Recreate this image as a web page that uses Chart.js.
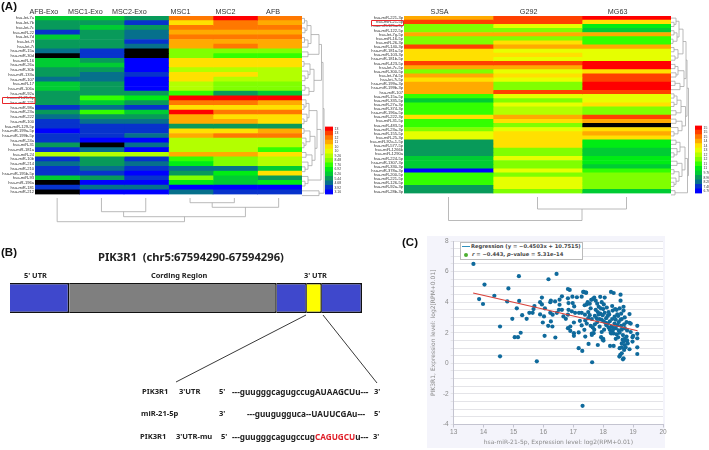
<!DOCTYPE html>
<html>
<head>
<meta charset="utf-8">
<script src="https://cdn.jsdelivr.net/npm/chart.js@4"></script>
<style>
  html, body { margin: 0; padding: 0; background: #fff; width: 709px; height: 450px; overflow: hidden; }
  #stage { position: relative; width: 709px; height: 450px; font-family: "Liberation Sans", Arial, sans-serif; }
  #stage canvas, #stage svg { position: absolute; }
  .t { position: absolute; white-space: pre; line-height: 1; color: #222; font-variant-ligatures: none; }
  .b { font-family: "Noto Sans", sans-serif; font-weight: 700; }
</style>
</head>
<body>
<div id="stage"></div>
<script>
// === Data: heatmap (A) left, colour level per row ===
const leftRows = ["hsa-let-7a","hsa-let-7b","hsa-let-7c","hsa-miR-22","hsa-let-7d","hsa-let-7f","hsa-let-7i","hsa-miR-15a","hsa-miR-30d","hsa-miR-16","hsa-miR-26a","hsa-miR-30b","hsa-miR-133a","hsa-miR-107","hsa-miR-17","hsa-miR-106a","hsa-miR-92a","hsa-miR-21-5p","hsa-miR-221","hsa-miR-98a","hsa-miR-23a","hsa-miR-222","hsa-miR-100","hsa-miR-129-5p","hsa-miR-199a-5p","hsa-miR-199b-5p","hsa-miR-24a","hsa-miR-31","hsa-miR-181a","hsa-miR-24","hsa-miR-10b","hsa-miR-214","hsa-miR-210","hsa-miR-195b-5p","hsa-miR-93","hsa-miR-196a","hsa-miR-181","hsa-miR-212"];
const leftCols = ["AFB-Exo","MSC1-Exo","MSC2-Exo","MSC1","MSC2","AFB"];
const afbExo  = [4,3,3,1,4,3,3,2,-1,4,4,3,3,2,4,4,3,3,3,1,3,2,1,1,0,1,1,3,1,8,1,2,1,1,4,-1,1,-1];
const msc1Exo = [4,3,4,3,3,3,3,1,1,3,4,3,2,2,3,3,3,6,4,2,6,3,2,1,1,1,0,-1,2,8,3,3,2,1,3,0,2,0];
const msc2Exo = [3,1,3,2,2,1,2,-1,-1,0,0,0,1,0,0,0,3,5,3,1,4,3,2,1,1,2,0,2,0,8,1,2,1,0,1,0,2,0];
const msc1    = [12,10,12,11,12,11,11,7,7,10,10,8,10,10,8,8,6,14,12,10,14,11,11,3,10,11,8,8,8,11,6,5,2,3,7,5,0,2];
const msc2    = [14,12,12,11,12,11,12,7,6,10,10,8,10,8,7,7,3,14,12,10,12,10,11,3,10,12,8,8,8,11,7,7,2,5,4,4,0,1];
const afb     = [12,11,12,11,12,11,11,7,6,10,10,8,8,8,7,7,4,14,11,10,12,10,10,3,11,12,8,8,6,10,8,8,4,10,3,5,0,1];

// === Data: heatmap (A) right ===
const rightRows = ["hsa-miR-221-3p","hsa-miR-21-5p","hsa-miR-125a-5p","hsa-miR-122-5p","hsa-let-7g-5p","hsa-miR-16-5p","hsa-miR-26-3p","hsa-miR-140-3p","hsa-miR-181a-5p","hsa-miR-103-3p","hsa-miR-181b-5p","hsa-miR-423-5p","hsa-let-7c-5p","hsa-miR-300-5p","hsa-let-7d-5p","hsa-let-7i-5p","hsa-miR-199a-3p","hsa-miR-199b-3p","hsa-miR-107","hsa-miR-15a-5p","hsa-miR-335-5p","hsa-miR-27a-3p","hsa-miR-374-3p","hsa-miR-196a-5p","hsa-miR-222-3p","hsa-miR-31-5p","hsa-miR-483-5p","hsa-miR-23a-3p","hsa-miR-155-5p","hsa-miR-25-3p","hsa-miR-92a-1-5p","hsa-miR-577-5p","hsa-miR-1266b","hsa-miR-1290a","hsa-miR-224-5p","hsa-miR-1307-3p","hsa-miR-330-3p","hsa-miR-378a-3p","hsa-miR-200-5p","hsa-miR-221-5p","hsa-miR-126-5p","hsa-miR-92a-3p","hsa-miR-28b-3p"];
const rightCols = ["SJSA","G292","MG63"];
const sjsa = [11,13,7,7,11,7,7,13,10,10,10,13,11,7,11,10,11,11,11,6,4,6,6,6,10,6,6,7,9,9,3,3,3,3,4,4,4,0,6,6,6,3,3];
const g292 = [13,13,9,7,11,7,10,11,9,10,9,13,11,9,10,9,7,7,13,9,7,9,8,8,11,10,7,9,10,10,10,10,7,7,9,7,7,9,7,9,9,9,7];
const mg63 = [14,10,5,4,11,6,6,11,9,9,9,14,14,10,13,13,14,14,13,9,9,10,7,7,13,11,-1,10,11,10,5,5,4,4,5,5,4,6,7,7,7,7,4];

// === Data: colour keys ===
const leftKeyLabels  = ["13","13","12","11","10","10","9.26","8.48","7.70","6.92","6.20","5.44","4.68","3.92","3.16"];
const rightKeyLabels = ["15","15","15","14","14","13","12","12","11","11","9.76","8.96","8.28","7.48","6.76"];
const keyLevels = [14,13,12,11,10,9,8,7,6,5,4,3,2,1,0];

// === Data: gene structure (B) ===
const geneParts = ["5' UTR","Cording Region","3' UTR a","Site","3' UTR b"];
const geneLengths = [59,207,30,15,40];

// === Data: scatter (C) ===
const scatterX = [13.66,15.18,16.44,16.17,14.03,14.83,14.36,13.85,13.98,14.79,15.19,15.11,14.96,15.29,15.44,14.55,15.04,15.15,15.24,14.55,15.78,17.31,17.63,17.18,17.3,16.04,16.4,15.53,15.64,15.67,15.7,15.95,15.89,15.95,15.89,16.02,16.05,15.98,16.16,16.3,16.25,16.23,16.25,16.39,16.23,16.31,16.45,16.54,16.62,16.54,16.62,16.52,16.67,16.75,16.82,16.82,16.88,16.82,16.97,17.12,17.28,17.35,17.43,16.84,16.98,17.03,16.84,16.95,17.06,17.19,17.28,17.39,16.82,16.9,16.9,17.02,17.22,17.02,17.18,17.02,17.37,17.28,17.4,17.51,17.82,17.62,17.68,18.26,18.35,18.58,18.58,19.14,19.14,19.14,19.14,19.14,18.88,18.98,18.98,18.88,18.57,18.62,18.68,18.66,18.54,18.7,18.55,18.23,18.35,18.01,17.93,17.33,17.42,17.38,17.45,17.55,17.48,17.6,17.7,17.65,17.75,17.8,17.9,18.05,17.95,18.02,17.85,17.92,18.0,17.75,17.82,17.9,17.98,18.05,17.72,17.78,17.88,17.95,18.02,18.1,18.15,18.2,18.08,18.15,18.22,18.3,18.38,18.45,18.32,18.4,18.55,18.68,18.6,18.5,18.42,18.52,18.62,18.72,18.78,18.88,18.92,18.7,18.6,18.48,18.38,18.28,18.18,18.22,18.32,18.42,18.52,18.62,18.72,18.8,18.92,18.25,18.35,18.45,18.55,18.66,18.78,18.72,18.65,18.7,18.8,18.62,18.72,18.82,18.75,18.62,18.5,18.42,17.5,17.55,17.62,17.5,17.4,17.45,17.58,17.65,17.72,17.8,17.88,17.7,17.62,17.95,17.98,18.0,19.0,18.12,18.3,18.47,17.58,17.85,18.1,18.58,18.68,18.35,18.18,18.03,18.27];
const scatterY = [6.5,5.7,5.85,5.5,5.15,4.9,4.42,4.2,3.88,4.05,4.08,3.6,2.91,3.15,2.91,2.41,1.71,1.71,2.0,0.46,0.13,-2.78,0.07,0.99,0.81,1.8,1.69,3.3,3.3,3.55,3.75,4.3,4.0,3.85,3.2,3.07,3.6,2.67,2.45,2.41,2.74,4.0,4.1,4.05,3.3,3.18,3.3,4.16,4.38,3.83,3.5,3.5,3.07,2.91,3.18,4.86,4.8,4.25,4.36,4.32,4.36,4.67,4.62,3.94,3.94,3.72,3.5,3.4,3.3,3.3,3.3,3.18,2.3,2.41,2.12,2.67,2.78,1.97,2.02,1.8,2.19,2.48,1.75,1.27,1.2,1.86,1.97,4.67,4.6,4.49,4.1,2.45,1.93,1.64,1.05,0.61,3.22,1.71,1.42,0.92,0.55,0.66,0.33,0.26,0.44,0.88,0.99,1.14,1.14,1.49,1.71,4.67,4.62,3.8,3.85,3.9,4.0,4.15,4.3,4.2,4.1,3.9,4.35,4.3,4.0,3.85,3.7,3.6,3.55,3.5,3.35,3.25,3.15,3.3,3.1,2.95,2.9,2.85,2.75,2.95,3.1,3.2,2.65,2.6,2.75,2.9,3.05,3.5,3.45,3.55,3.6,3.45,3.25,3.1,2.85,2.7,2.9,3.0,2.7,2.65,2.6,2.55,2.45,2.5,2.6,2.4,2.35,2.2,2.15,2.3,2.15,2.2,2.3,2.15,2.05,2.0,1.95,1.9,2.0,1.85,1.75,1.6,1.55,1.45,1.5,1.3,1.2,1.3,1.05,1.05,1.7,1.6,3.35,3.15,2.9,2.95,2.8,2.6,2.45,2.35,2.55,2.7,2.4,2.2,1.95,2.05,1.55,1.6,1.8,3.65,3.75,3.2,3.6,3.2,2.5,2.85,3.7,2.3,3.35,2.2,1.95];
const lineX = [13.65,19.15];
const lineY = [4.6,2.13];

// === Styles ===
const palette = ["#0000ff","#0733cc","#06708c","#089a5a","#00cc33","#00ec14","#33ff00","#80ff00","#b3ff00","#e6ff00","#ffe000","#ffaa00","#ff7800","#ff4000","#ff0000"];
const levelColor = (v) => (v < 0 ? "#000000" : palette[v]);
const stage = document.getElementById("stage");

function addCanvas(left, top, width, height) {
  const c = document.createElement("canvas");
  c.width = width;
  c.height = height;
  c.style.left = left + "px";
  c.style.top = top + "px";
  c.style.width = width + "px";
  c.style.height = height + "px";
  stage.appendChild(c);
  return c;
}

function addText(x, y, str, size, cls, extra) {
  const d = document.createElement("div");
  d.className = "t " + (cls || "");
  d.style.left = x + "px";
  d.style.top = y + "px";
  d.style.fontSize = size + "px";
  if (extra) Object.assign(d.style, extra);
  d.innerHTML = str;
  stage.appendChild(d);
  return d;
}

// === Heatmaps (floating horizontal bars, one dataset per column) ===
function heatChart(canvas, rows, cols, names, axisW, axisH, tickPos) {
  return new Chart(canvas, {
    type: "bar",
    data: {
      labels: rows,
      datasets: cols.map((col, c) => ({
        label: names[c],
        data: col.map(() => [c, c + 1]),
        backgroundColor: col.map(levelColor),
        barPercentage: 1,
        categoryPercentage: 1,
        grouped: false,
      })),
    },
    options: {
      indexAxis: "y",
      responsive: false,
      animation: false,
      devicePixelRatio: 1,
      layout: { padding: 0 },
      plugins: { legend: { display: false }, tooltip: { enabled: false } },
      scales: {
        x: {
          position: "top",
          min: 0,
          max: cols.length,
          grid: { display: false, drawTicks: false },
          border: { display: false },
          afterBuildTicks: (s) => { s.ticks = tickPos.map((v) => ({ value: v })); },
          afterFit: (s) => { s.height = axisH; },
          ticks: {
            autoSkip: false,
            maxRotation: 0,
            padding: 0,
            color: "#333",
            font: { size: 7.2, family: "Liberation Sans" },
            callback: (v, i) => names[i],
          },
        },
        y: {
          grid: { display: false, drawTicks: false },
          border: { display: false },
          afterFit: (s) => { s.width = axisW; },
          ticks: {
            autoSkip: false,
            padding: 1,
            color: "#333",
            font: { size: 4.1, family: "Liberation Sans" },
          },
        },
      },
    },
  });
}

heatChart(addCanvas(0, 4, 302, 194), leftRows, [afbExo, msc1Exo, msc2Exo, msc1, msc2, afb], leftCols, 35, 12, [0.2, 1.13, 2.12, 3.27, 4.28, 5.35]);
heatChart(addCanvas(340, 4, 331, 193), rightRows, [sjsa, g292, mg63], rightCols, 64, 12, [0.4, 1.4, 2.4]);

// === Colour keys ===
function keyChart(canvas, labels, axisW) {
  return new Chart(canvas, {
    type: "bar",
    data: {
      labels,
      datasets: [{
        data: keyLevels.map(() => [0, 1]),
        backgroundColor: keyLevels.map(levelColor),
        barPercentage: 1,
        categoryPercentage: 1,
      }],
    },
    options: {
      indexAxis: "y",
      responsive: false,
      animation: false,
      devicePixelRatio: 1,
      layout: { padding: 0 },
      plugins: { legend: { display: false }, tooltip: { enabled: false } },
      scales: {
        x: { display: false, min: 0, max: 1 },
        y: {
          position: "right",
          grid: { display: false, drawTicks: false },
          border: { display: false },
          afterFit: (s) => { s.width = axisW; },
          ticks: { autoSkip: false, padding: 1.5, color: "#333", font: { size: 3.4, family: "Liberation Sans" } },
        },
      },
    },
  });
}
keyChart(addCanvas(325, 123, 22, 75), leftKeyLabels, 14);
keyChart(addCanvas(695, 122, 14, 75), rightKeyLabels, 7);

// === Gene bar (B) ===
const geneColors = ["#3f48cc", "#7f7f7f", "#3f48cc", "#ffff00", "#3f48cc"];
new Chart(addCanvas(9, 282, 354, 32), {
  type: "bar",
  data: {
    labels: ["PIK3R1"],
    datasets: geneParts.map((name, i) => ({
      label: name,
      data: [geneLengths[i]],
      backgroundColor: geneColors[i],
      borderColor: "#111",
      borderWidth: 1.5,
      barPercentage: 1,
      categoryPercentage: 1,
      inflateAmount: 0,
    })),
  },
  options: {
    indexAxis: "y",
    responsive: false,
    animation: false,
    devicePixelRatio: 1,
    layout: { padding: 1 },
    plugins: { legend: { display: false }, tooltip: { enabled: false } },
    scales: {
      x: { display: false, stacked: true, min: 0, max: 351 },
      y: { display: false, stacked: true },
    },
  },
});

// === Scatter (C) ===
const panel = document.createElement("div");
panel.style.cssText = "position:absolute;left:427px;top:236px;width:238px;height:212px;background:#f4f4fb;";
stage.appendChild(panel);

new Chart(addCanvas(426, 232, 250, 215), {
  type: "scatter",
  data: {
    datasets: [
      {
        label: "Regression",
        type: "line",
        data: lineX.map((x, i) => ({ x, y: lineY[i] })),
        borderColor: "#d8413a",
        borderWidth: 1.1,
        pointRadius: 0,
        order: 0,
      },
      {
        label: "r",
        data: scatterX.map((x, i) => ({ x, y: scatterY[i] })),
        backgroundColor: "#0f6a9c",
        borderWidth: 0,
        pointRadius: 2.1,
        order: 1,
      },
    ],
  },
  options: {
    responsive: false,
    animation: false,
    devicePixelRatio: 1,
    layout: { padding: { top: 9, right: 13, left: 4, bottom: 0 } },
    plugins: {
      legend: { display: false },
      tooltip: { enabled: false },
    },
    scales: {
      x: {
        type: "linear",
        min: 13,
        max: 20,
        afterFit: (s) => { s.height = 22.5; },
        grid: { drawOnChartArea: false, color: "#c4c4d0", tickLength: 3 },
        border: { color: "#c4c4d0" },
        ticks: { stepSize: 1, padding: 1, color: "#8a8a8a", font: { size: 6.5, family: "Liberation Sans" } },
        title: { display: true, text: "hsa-miR-21-5p, Expression level: log2(RPM+0.01)", color: "#8a8a8a", padding: 1, font: { size: 6, family: "DejaVu Sans" } },
      },
      y: {
        min: -4,
        max: 8,
        afterFit: (s) => { s.width = 23.7; },
        grid: { color: "#e4e4e8", tickLength: 3 },
        border: { color: "#c4c4d0" },
        ticks: {
          stepSize: 0.5,
          autoSkip: false,
          padding: 2,
          color: "#8a8a8a",
          font: { size: 6.5, family: "Liberation Sans" },
          callback: (v) => (v % 2 === 0 ? String(v) : ""),
        },
        title: { display: true, text: "PIK3R1, Expression level: log2[RPM+0.01]", color: "#8a8a8a", padding: 0, font: { size: 6, family: "DejaVu Sans" } },
      },
    },
  },
  plugins: [{
    id: "plotBg",
    beforeDraw(chart) {
      const a = chart.chartArea;
      chart.ctx.fillStyle = "#fff";
      chart.ctx.fillRect(a.left, a.top, a.width, a.height);
    },
  }],
});

// Legend box of (C)
const legendBox = document.createElement("div");
legendBox.style.cssText = "position:absolute;left:460px;top:242px;width:121px;height:16px;background:#fff;border:1px solid #bbb;";
stage.appendChild(legendBox);
const legendLine = document.createElement("div");
legendLine.style.cssText = "position:absolute;left:462px;top:246px;width:8px;height:1px;background:#2f8fbd;";
stage.appendChild(legendLine);
const legendDot = document.createElement("div");
legendDot.style.cssText = "position:absolute;left:464px;top:253px;width:4px;height:4px;border-radius:50%;background:#4caf30;";
stage.appendChild(legendDot);
addText(471, 243.5, "Regression (y = −0.4503x + 10.7515)", 5.2, "", { fontFamily: "DejaVu Sans", fontWeight: 700, color: "#444" });
addText(472, 252, "<i>r</i> = −0.443, <i>p</i>–value = 5.31e–14", 5.2, "", { fontFamily: "DejaVu Sans", fontWeight: 700, color: "#444" });

// === Dendrograms: tree node = [height, a, b], leaf = row or column index ===
const NS = "http://www.w3.org/2000/svg";
const svg = document.createElementNS(NS, "svg");
svg.setAttribute("width", 709);
svg.setAttribute("height", 450);
svg.style.left = "0";
svg.style.top = "0";
stage.appendChild(svg);

function addPath(d, stroke, width) {
  const p = document.createElementNS(NS, "path");
  p.setAttribute("d", d);
  p.setAttribute("fill", "none");
  p.setAttribute("stroke", stroke);
  p.setAttribute("stroke-width", width);
  svg.appendChild(p);
}

// horizontal = true: tree grows right from base, false: tree grows down
function drawTree(node, pos, base, horizontal, out) {
  if (typeof node === "number") return { p: pos(node), h: 0 };
  const a = drawTree(node[1], pos, base, horizontal, out);
  const b = drawTree(node[2], pos, base, horizontal, out);
  const h = base + node[0];
  if (horizontal) {
    out.push(`M${base + a.h} ${a.p}H${h}V${b.p}H${base + b.h}`);
  } else {
    out.push(`M${a.p} ${base + a.h}V${h}H${b.p}V${base + b.h}`);
  }
  return { p: (a.p + b.p) / 2, h: node[0] };
}

function tree(node, pos, base, horizontal) {
  const out = [];
  drawTree(node, pos, base, horizontal, out);
  addPath(out.join(""), "#a8a8a8", 0.8);
}

const leftTree = [22,
  [21,
    [19.5, [17, [9, [5, [2.5, 0, 1], [3, 2, 3]], [6, [2.5, 4, 5], 6]], [6, 7, 8]], [12, [8, [2, 9, 10], [6, 11, [3, 12, 13]]], [7, [3, 14, 15], 16]]],
    [19, [15, [7, [4, 17, [2, 18, 19]], [5, 20, [2, 21, 22]]], [13, [8, [2, 23, 24], [4, 25, [2, 26, 27]]], [10, [4, 28, 29], [6, 30, [3, 31, 32]]]]], [6, 33, [3, 34, 35]]]],
  [17, 36, 37]];
const rightTree = [17.5,
  [16,
    [15, [12, [8, [5, 0, [3, 1, 2]], [6, [3, 3, 4], [2, 5, 6]]], [7, [3, 7, 8], [4, 9, 10]]], [13, [7, [4, 11, 12], [5, 13, 14]], [9, [4, 15, 16], 17]]],
    [14.5, [10, [6, [3, 18, 19], [3, 20, 21]], [5, 22, 23]], [11, [5, 24, 25], [7, 26, [3, 27, 28]]]]],
  [16.5, [14, [9, [5, 29, 30], [6, 31, [3, 32, 33]]], [11, [6, 34, 35], [8, [3, 36, 37], [5, 38, [3, 39, 40]]]]], [4, 41, 42]]];

tree(leftTree, (i) => 16 + (i + 0.5) * (182 / 38), 302, true);
tree(rightTree, (i) => 16 + (i + 0.5) * (181 / 43), 671, true);
tree([23.7, 0, [18.7, [13.7, 1, 2], [9.3, [4.7, 3, 4], 5]]], (i) => 35 + (i + 0.5) * 44.3, 198, false);
tree([23.5, 0, [12, 1, 2]], (i) => 404 + (i + 0.5) * 89, 197, false);

// Zoom lines from the yellow site to the sequences
addPath("M306 315L176 382M323 315L377 383", "#222", 0.9);

// Red boxes round miR-21-5p
addPath("M2.5 97.5H35V103.5H2.5Z", "#e8262a", 1);
addPath("M371.5 20.5H403.5V25.5H371.5Z", "#e8262a", 1);

// === Text ===
addText(1, 1, "(A)", 11.5, "", { fontWeight: 700, color: "#111" });
addText(1, 247, "(B)", 11.5, "", { fontWeight: 700, color: "#111" });
addText(402, 237, "(C)", 11.5, "", { fontWeight: 700, color: "#111" });

addText(98, 251, "PIK3R1  (chr5:67594290-67594296)", 11.2, "b");
addText(24, 272, "5' UTR", 7.4, "b");
addText(151, 272, "Cording Region", 7.4, "b");
addText(304, 272, "3' UTR", 7.4, "b");

const seqFont = 7.6;
const seqBody = 8.2;
addText(142, 388, "PIK3R1", seqFont, "b");
addText(179, 388, "3'UTR", seqFont, "b");
addText(219, 388, "5'", seqFont, "b");
addText(232, 388, "---guugggcagugccugAUAAGCUu---", seqBody, "b");
addText(374, 388, "3'", seqFont, "b");

addText(141, 410, "miR-21-5p", seqFont, "b");
addText(219, 410, "3'", seqFont, "b");
addText(247, 410, "---guuguggucа--UAUUCGAu---".replace("а", "a"), seqBody, "b");
addText(374, 410, "5'", seqFont, "b");

addText(140, 433, "PIK3R1", seqFont, "b");
addText(176, 433, "3'UTR-mu", seqFont, "b");
addText(221, 433, "5'", seqFont, "b");
addText(232, 433, "---guugggcagugccug<span style=\"color:#e0202a\">CAGUGCU</span>u---", seqBody, "b");
addText(373, 433, "3'", seqFont, "b");
</script>
</body>
</html>
